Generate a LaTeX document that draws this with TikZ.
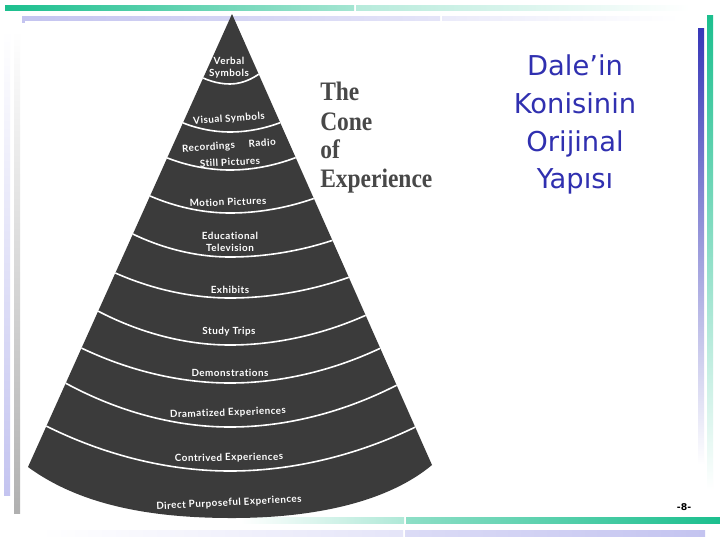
\documentclass[tikz,border=0pt]{standalone}
\usepackage{fontspec}
\newfontfamily\labelfont{Lato}[LetterSpace=5, Ligatures=NoCommon]
\newfontfamily\titlefont{Liberation Serif}
\newfontfamily\dalefont{DejaVu Sans}
\definecolor{tealbar}{HTML}{1CBF8E}
\definecolor{bluebar}{HTML}{3737B8}
\definecolor{lavbar}{HTML}{C4C4F0}
\definecolor{graybar}{HTML}{B0B0B0}
\definecolor{conefill}{HTML}{3B3B3B}
\definecolor{titlegray}{HTML}{484848}
\definecolor{daleblue}{HTML}{3030B0}
\tikzset{
  lbl/.style={text=white, inner sep=0pt, align=center,
    font=\labelfont\bfseries\fontsize{7.4}{9}\selectfont},
  bandline/.style={white, line width=1.2pt},
  conetitle/.style={text=titlegray, inner sep=0pt, anchor=base west,
    font=\titlefont\bfseries\fontsize{20}{22}\selectfont},
  daletext/.style={text=daleblue, inner sep=0pt, anchor=base,
    font=\dalefont\fontsize{20.5}{24}\selectfont}
}
\begin{document}
\begin{tikzpicture}[x=0.75pt,y=-0.75pt]
\useasboundingbox (0,0) rectangle (720,540);
\fill[white] (0,0) rectangle (720,540);
% top bars
\shade[left color=tealbar, right color=tealbar!40!white] (5,5) rectangle (354,10);
\shade[left color=tealbar!32!white, right color=white] (356,5) rectangle (690,10);
\shade[left color=lavbar, right color=lavbar!45!white] (22,16) rectangle (440,20);
\shade[left color=lavbar!35!white, right color=white] (442,16) rectangle (680,20);
\fill[lavbar] (22,16) rectangle (25,23);
% left bars
\shade[top color=white, bottom color=lavbar] (4,30) rectangle (10,495);
\shade[top color=white, bottom color=graybar] (14,30) rectangle (20,513);
% right bars
\shade[top color=bluebar, bottom color=white] (698,28) rectangle (704,465);
\shade[top color=tealbar, bottom color=white] (707,15) rectangle (713,490);
% bottom bars
\shade[left color=white, right color=tealbar!35!white] (240,517) rectangle (404,523);
\shade[left color=tealbar!50!white, right color=tealbar] (406,517) rectangle (720,523);
\shade[left color=white, right color=lavbar!45!white] (40,530) rectangle (403,536);
\shade[left color=lavbar!60!white, right color=lavbar] (405,530) rectangle (705,536);
% cone
\def\conepath{(232,14) -- (28,467) .. controls (80,505) and (150,518) .. (232,518) .. controls (320,518) and (390,500) .. (432,465) -- cycle}
\fill[conefill] \conepath;
\begin{scope}
\clip \conepath;
\foreach \yl/\yr/\yb in {77/73/84, 122/122/132, 157/157/170, 195/198/213, 233/240/257, 272/277/298, 310/315/345, 347/348/383, 382/385/427, 425/427/471}
  \draw[bandline] ({232-0.451*(\yl-15)-3},\yl) parabola bend (230,\yb) ({232+0.438*(\yr-15)+3},\yr);
\end{scope}
% labels
\node[lbl] (verbal) at (229,68) {Verbal\\Symbols};
\node[lbl, rotate=4] (visual) at (229,119) {Visual Symbols};
\node[lbl, rotate=4] (rec) at (229,146) {Recordings\hspace{1.4em}Radio};
\node[lbl, rotate=3] (still) at (230,162) {Still Pictures};
\node[lbl, rotate=2] (motion) at (228,202) {Motion Pictures};
\node[lbl] (edu) at (230,242) {Educational\\Television};
\node[lbl] (exh) at (230,290) {Exhibits};
\node[lbl] (study) at (229,332) {Study Trips};
\node[lbl] (demo) at (230,373) {Demonstrations};
\node[lbl, rotate=2] (drama) at (228,413) {Dramatized Experiences};
\node[lbl, rotate=1] (contr) at (229,458) {Contrived Experiences};
\node[lbl, rotate=3] (direct) at (229,503) {Direct Purposeful Experiences};
% title
\node[conetitle] (t1) at (320,100) {\scalebox{0.88}[1]{The}};
\node[conetitle] (t2) at (320,130) {\scalebox{0.88}[1]{Cone}};
\node[conetitle] (t3) at (320,158) {\scalebox{0.88}[1]{of}};
\node[conetitle] (t4) at (320,187) {\scalebox{0.88}[1]{Experience}};
% right title
\node[daletext] (d1) at (575,75) {Dale’in};
\node[daletext] (d2) at (575,113) {Konisinin};
\node[daletext] (d3) at (575,151) {Orijinal};
\node[daletext] (d4) at (575,188) {Yapısı};
% page number
\node[inner sep=0pt, font=\dalefont\bfseries\fontsize{7}{8}\selectfont] (pg) at (684,507) {-8-};
\end{tikzpicture}
\end{document}
